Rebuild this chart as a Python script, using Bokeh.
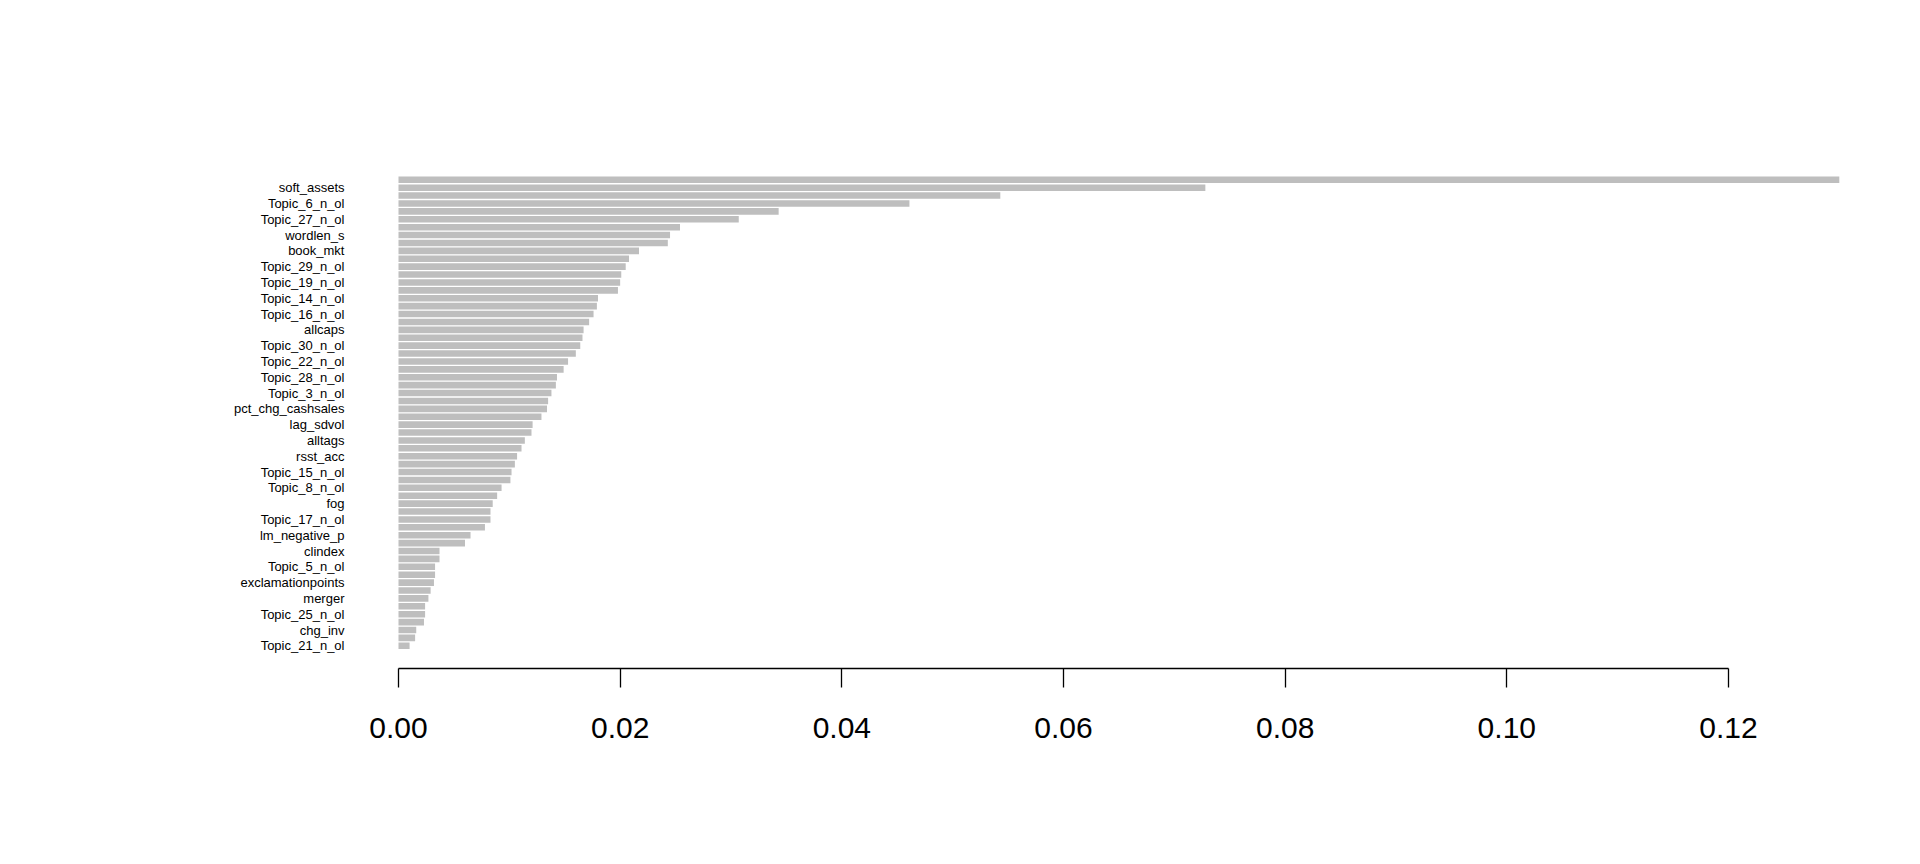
import numpy as np
from bokeh.plotting import figure
from bokeh.models import ColumnDataSource, FixedTicker, NumeralTickFormatter, Range1d
from bokeh.embed import file_html
from bokeh.resources import INLINE

# variable importance, top bar first
importance = [
    0.1300, 0.0728, 0.0543, 0.0461, 0.0343, 0.0307, 0.0254, 0.0245, 0.0243, 0.0217,
    0.0208, 0.0205, 0.0201, 0.0200, 0.0198, 0.0180, 0.0179, 0.0176, 0.0172, 0.0167,
    0.0166, 0.0164, 0.0160, 0.0153, 0.0149, 0.0143, 0.0142, 0.0138, 0.0135, 0.0134,
    0.0129, 0.0121, 0.0120, 0.0114, 0.0111, 0.0107, 0.0105, 0.0102, 0.0101, 0.0093,
    0.0089, 0.0085, 0.0083, 0.0083, 0.0078, 0.0065, 0.0060, 0.0037, 0.0037, 0.0033,
    0.0033, 0.0032, 0.0029, 0.0027, 0.0024, 0.0024, 0.0023, 0.0016, 0.0015, 0.0010,
]

# names printed for every second bar (2nd, 4th, ... from the top)
shown_names = [
    "soft_assets", "Topic_6_n_ol", "Topic_27_n_ol", "wordlen_s", "book_mkt",
    "Topic_29_n_ol", "Topic_19_n_ol", "Topic_14_n_ol", "Topic_16_n_ol", "allcaps",
    "Topic_30_n_ol", "Topic_22_n_ol", "Topic_28_n_ol", "Topic_3_n_ol", "pct_chg_cashsales",
    "lag_sdvol", "alltags", "rsst_acc", "Topic_15_n_ol", "Topic_8_n_ol",
    "fog", "Topic_17_n_ol", "lm_negative_p", "clindex", "Topic_5_n_ol",
    "exclamationpoints", "merger", "Topic_25_n_ol", "chg_inv", "Topic_21_n_ol",
]

x_ticks = [0.00, 0.02, 0.04, 0.06, 0.08, 0.10, 0.12]

n = len(importance)
ypos = np.arange(n, 0, -1)          # top bar at n, bottom bar at 1
label_pos = [int(v) for v in ypos[1::2]]

src = ColumnDataSource(dict(y=ypos, right=importance))

p = figure(
    output_backend="svg", toolbar_location=None,
    frame_width=1544, frame_height=511,
    min_border_left=352, min_border_right=8, min_border_top=157, min_border_bottom=180,
    x_range=Range1d(-0.00415, 0.13516), y_range=Range1d(-1.874, 62.82),
    background_fill_color="white", border_fill_color="white",
)
p.outline_line_color = None
p.grid.visible = False

p.hbar(y="y", left=0, right="right", height=1 / 1.2, source=src,
       fill_color="#BEBEBE", line_color=None)

xa = p.xaxis[0]
xa.ticker = FixedTicker(ticks=x_ticks)
xa.formatter = NumeralTickFormatter(format="0.00")
xa.bounds = (x_ticks[0], x_ticks[-1])
xa.axis_line_color = "black"
xa.axis_line_width = 1.3
xa.major_tick_line_color = "black"
xa.major_tick_line_width = 1.3
xa.major_tick_out = 19
xa.major_tick_in = 0
xa.minor_tick_line_color = None
xa.major_label_text_font = "Liberation Sans"
xa.major_label_text_font_size = "30px"
xa.major_label_text_color = "black"
xa.major_label_standoff = 30

ya = p.yaxis[0]
ya.ticker = FixedTicker(ticks=label_pos)
ya.major_label_overrides = {pos: name for pos, name in zip(label_pos, shown_names)}
ya.axis_line_color = None
ya.major_tick_line_color = None
ya.minor_tick_line_color = None
ya.major_tick_out = 0
ya.major_tick_in = 0
ya.major_label_text_font = "Liberation Sans"
ya.major_label_text_font_size = "13px"
ya.major_label_text_color = "black"
ya.major_label_standoff = 8

open("out.html", "w").write(file_html(p, INLINE))
